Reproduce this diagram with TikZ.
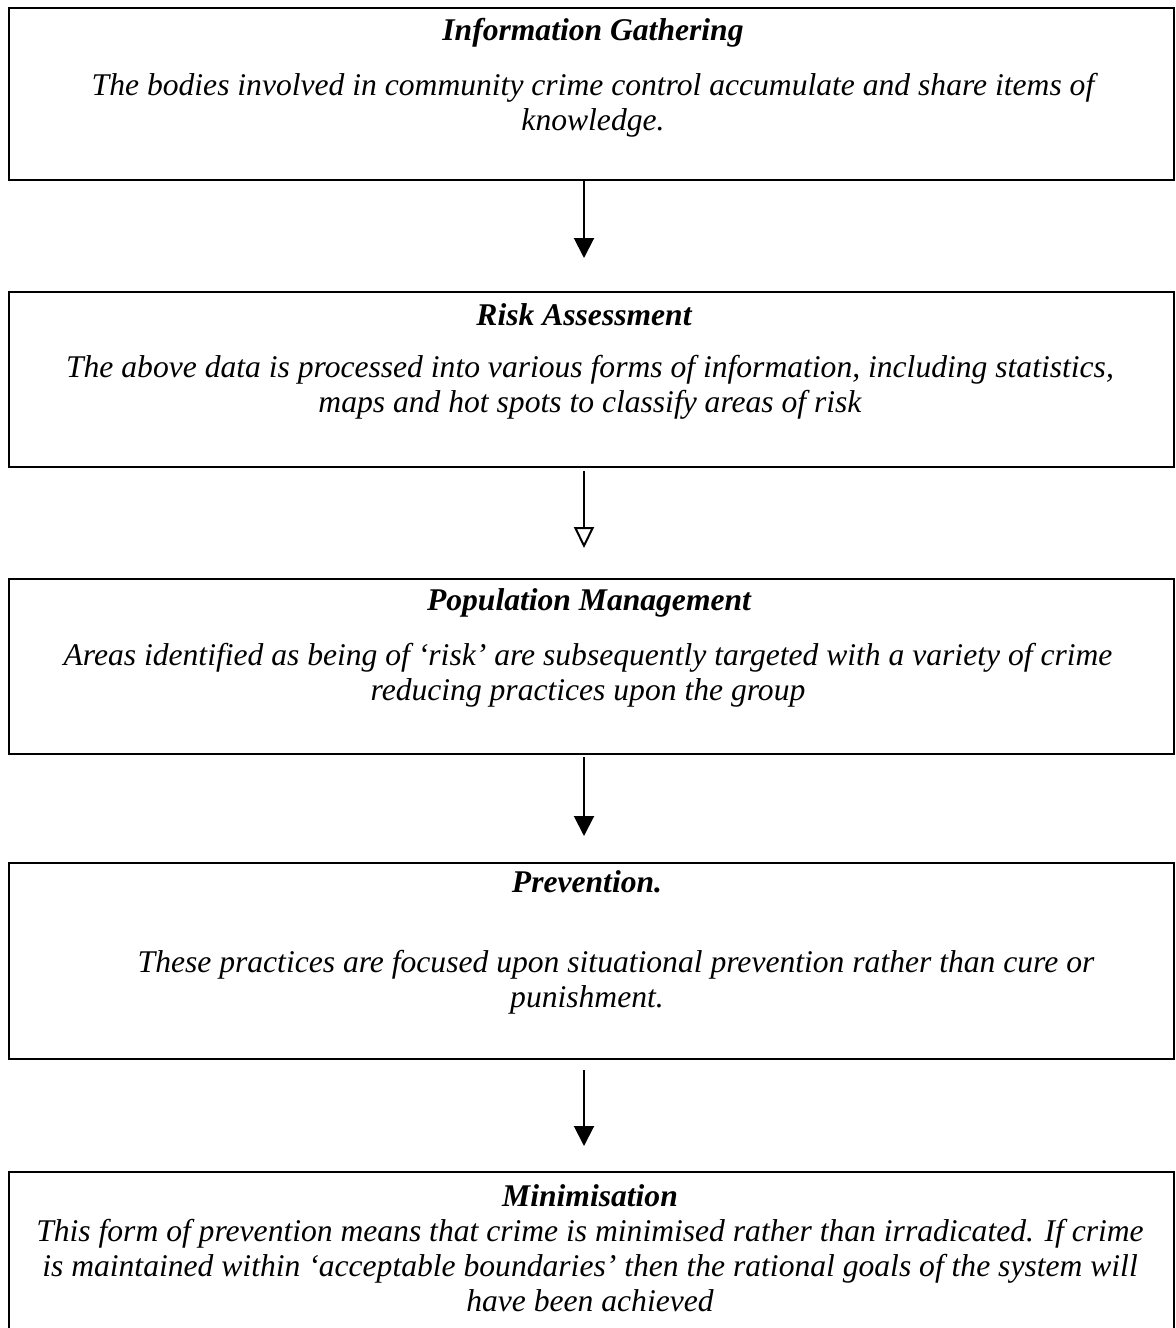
\documentclass[tikz,border=0pt]{standalone}
\usepackage{fontspec}
\setmainfont{Liberation Serif}
\usetikzlibrary{arrows.meta}
\begin{document}
\begin{tikzpicture}[x=0.5pt,y=-0.5pt,
  box/.style={draw,line width=1pt,minimum width=582.5pt,inner sep=0pt},
  ttl/.style={font=\fontsize{15.8}{17.5}\selectfont\bfseries\itshape},
  body/.style={font=\fontsize{15.8}{17.5}\selectfont\itshape,align=center},
  arr/.style={line width=1pt,-{Triangle[length=10pt,width=10pt]}},
  arro/.style={line width=1pt,-{Triangle[open,length=10.5pt,width=10pt]}}]
\clip (0,0) rectangle (1176,1328);
\fill[white] (0,0) rectangle (1176,1328);
\node[box,minimum height=86pt] (b1) at (591.5,94) {};
\node[box,minimum height=87.5pt] (b2) at (591.5,379.5) {};
\node[box,minimum height=87.5pt] (b3) at (591.5,666.5) {};
\node[box,minimum height=98pt] (b4) at (591.5,961) {};
\node[box,minimum height=91pt] (b5) at (591.5,1263) {};
\node[ttl] (t1) at (593,33) {Information Gathering};
\node[body] (x1) at (593,105.5) {The bodies involved in community crime control accumulate and share items of\\knowledge.};
\node[ttl] (t2) at (584,315) {Risk Assessment};
\node[body] (x2) at (590,387.5) {The above data is processed into various forms of information, including statistics,\\maps and hot spots to classify areas of risk};
\node[ttl] (t3) at (589,603) {Population Management};
\node[body] (x3) at (588,675.5) {Areas identified as being of ‘risk’ are subsequently targeted with a variety of crime\\reducing practices upon the group};
\node[ttl] (t4) at (587,882) {Prevention.};
\node[body] (x4a) at (616,965) {These practices are focused upon situational prevention rather than cure or};
\node[body] (x4b) at (587,1000) {punishment.};
\node[ttl] (t5) at (590,1196) {Minimisation};
\node[body] (x5) at (590,1266) {This form of prevention means that crime is minimised rather than irradicated. If crime\\is maintained within ‘acceptable boundaries’ then the rational goals of the system will\\have been achieved};
\coordinate (e1) at (584,258);
\coordinate (e2) at (584,548);
\coordinate (e3) at (584,836);
\coordinate (e4) at (584,1146);
\draw[arr] (b1.south -| e1) -- (e1);
\draw[arro] ([yshift=-1.5pt]b2.south -| e2) -- (e2);
\draw[arr] ([yshift=-1pt]b3.south -| e3) -- (e3);
\draw[arr] ([yshift=-5pt]b4.south -| e4) -- (e4);
\end{tikzpicture}
\end{document}
